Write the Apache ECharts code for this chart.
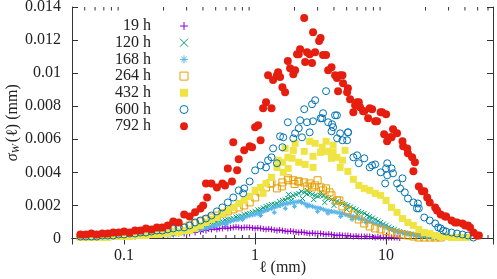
<!DOCTYPE html>
<html>
<head>
<meta charset="utf-8">
<script src="https://cdn.jsdelivr.net/npm/echarts@6/dist/echarts.min.js"></script>
<style>
html, body { margin: 0; padding: 0; background: #fff; }
#chart { width: 497px; height: 279px; }
</style>
</head>
<body>
<div id="chart"></div>
<script>
// shared l grid (mm)
var ell = [0.04642,0.05109,0.05623,0.06190,0.06813,0.07499,0.08254,0.09085,
  0.1,0.1101,0.1212,0.1334,0.1468,0.1616,0.1778,0.1957,0.2154,0.2371,0.2610,0.2873,0.3162,0.3481,0.3831,0.4217,0.4642,0.5109,0.5623,0.6190,0.6813,0.7499,0.8254,0.9085,
  1,1.101,1.212,1.334,1.468,1.616,1.778,1.957,2.154,2.371,2.610,2.873,3.162,3.481,3.831,4.217,4.642,5.109,5.623,6.190,6.813,7.499,8.254,9.085,
  10,11.01,12.12,13.34,14.68,16.16,17.78,19.57,21.54,23.71,26.10,28.73,31.62,34.81,38.31,42.17,46.42,51.09];
// in-between l values, used for the dense low curves
var ellMid = [0.2260,0.2488,0.2738,0.3014,0.3318,0.3652,0.4019,0.4424,0.4870,0.5360,0.5900,0.6494,0.7148,0.7868,0.8660,0.9532,
  1.049,1.155,1.271,1.399,1.540,1.695,1.866,2.054,2.260,2.488,2.738,3.014,3.318,3.652,4.019,4.424,4.870,5.360,5.900,6.494,7.148,7.868,8.660,9.532,
  10.49,11.55,12.71,13.99,15.40,16.95,18.66,20.54,22.60,24.88,27.38,30.14];

var sigma19 = [0.00006,0.00006,0.00006,0.00006,0.00006,0.00006,0.00012,0.00012,
  0.00012,0.00012,0.00012,0.00018,0.00018,0.00018,0.00018,0.00024,0.00024,0.00024,0.00030,0.00030,0.00030,0.00036,0.00042,0.00048,0.00055,0.00055,0.00061,0.00061,0.00067,0.00067,0.00067,0.00067,
  0.00061,0.00061,0.00055,0.00055,0.00048,0.00048,0.00042,0.00042,0.00036,0.00036,0.00030,0.00030,0.00030,0.00024,0.00024,0.00018,0.00018,0.00018,0.00012,0.00012,0.00012,0.00012,0.00006,0.00006,
  0.00006,0.00006,0.00006,null,null,null,null,null,null,null,null,null,null,null,null,null,null,null];
var mid19 = [0.00030,0.00033,0.00033,0.00039,0.00045,0.00052,0.00052,0.00058,0.00064,0.00061,0.00070,0.00064,0.00070,0.00064,0.00067,0.00064,
  0.00064,0.00058,0.00058,0.00052,0.00052,0.00045,0.00045,0.00039,0.00039,0.00033,0.00033,0.00030,0.00027,0.00027,0.00021,0.00021,0.00018,0.00015,0.00015,0.00012,0.00012,0.00009,0.00009,0.00006,
  0.00006,0.00006,0.00003,null,null,null,null,null,null,null,null,null];

var sigma120 = [0.00012,0.00012,0.00012,0.00012,0.00012,0.00012,0.00012,0.00012,
  0.00018,0.00018,0.00018,0.00018,0.00018,0.00024,0.00024,0.00024,0.00030,0.00036,0.00042,0.00048,0.00055,0.00061,0.00067,0.00079,0.00085,0.00097,0.00103,0.00115,0.00121,0.00133,0.00145,0.00152,
  0.00164,0.00176,0.00194,0.00206,0.00212,0.00230,0.00242,0.00261,0.00273,0.00279,0.00273,0.00261,0.00261,0.00248,0.00236,0.00224,0.00212,0.00200,0.00182,0.00164,0.00152,0.00133,0.00115,0.00097,
  0.00079,0.00061,0.00048,0.00036,0.00030,0.00024,0.00018,0.00012,0.00012,0.00006,0.00006,0.00006,null,null,null,null,null,null];
var mid120 = [0.00036,0.00039,0.00045,0.00052,0.00058,0.00064,0.00076,0.00082,0.00091,0.00100,0.00112,0.00118,0.00130,0.00136,0.00148,0.00158,
  0.00173,0.00185,0.00200,0.00206,0.00224,0.00233,0.00252,0.00267,0.00285,0.00270,0.00267,0.00255,0.00258,0.00242,0.00230,0.00218,0.00206,0.00191,0.00173,0.00158,0.00142,0.00124,0.00106,0.00088,
  0.00070,0.00055,0.00042,0.00033,0.00027,0.00021,0.00015,0.00012,0.00009,0.00006,0.00006,0.00006];
var extra120 = [[1.2,0.00176],[1.5,0.0020],[1.8,0.00267],[1.9,0.0023],[2.3,0.00242],[2.5,0.00291],[2.8,0.00236],[3.2,0.00279],[3.4,0.00218],[4.0,0.0020],[5.0,0.00176],[6.0,0.00145],[7.5,0.00115]];

var sigma168 = [0.00006,0.00006,0.00006,0.00006,0.00006,0.00006,0.00006,0.00006,
  0.00012,0.00012,0.00012,0.00012,0.00012,0.00018,0.00018,0.00018,0.00018,0.00024,0.00030,0.00036,0.00042,0.00048,0.00055,0.00061,0.00073,0.00079,0.00091,0.00097,0.00109,0.00115,0.00127,0.00139,
  0.00145,0.00158,0.00170,0.00182,0.00194,0.00206,0.00212,0.00218,0.00224,0.00212,0.00200,0.00188,0.00182,0.00170,0.00164,0.00158,0.00152,0.00139,0.00133,0.00121,0.00115,0.00103,0.00091,0.00079,
  0.00067,0.00055,0.00042,0.00036,0.00030,0.00024,0.00018,0.00018,0.00012,0.00012,0.00012,0.00006,0.00006,0.00006,0.00006,null,null,null];
var mid168 = [0.00021,0.00027,0.00033,0.00039,0.00045,0.00052,0.00058,0.00067,0.00076,0.00085,0.00094,0.00103,0.00112,0.00121,0.00133,0.00142,
  0.00152,0.00164,0.00176,0.00188,0.00200,0.00209,0.00215,0.00221,0.00218,0.00206,0.00194,0.00185,0.00176,0.00167,0.00161,0.00155,0.00145,0.00136,0.00127,0.00118,0.00109,0.00097,0.00085,0.00073,
  0.00061,0.00048,0.00039,0.00033,0.00027,0.00021,0.00018,0.00015,0.00012,0.00009,0.00009,0.00006];
var extra168 = [[0.6,0.00085],[0.8,0.00115],[1.1,0.00139],[1.4,0.00158],[1.7,0.00182],[2.0,0.00194],[2.5,0.00194],[3.0,0.00164],[3.6,0.00152],[4.5,0.00133],[5.5,0.00115],[7.0,0.00097]];

var sigma264 = [0.00012,0.00012,0.00012,0.00012,0.00012,0.00018,0.00018,0.00018,
  0.00024,0.00024,0.00024,0.00030,0.00030,0.00036,0.00036,0.00042,0.00048,0.00055,0.00061,0.00067,0.00079,0.00091,0.00103,0.00115,0.00127,0.00139,0.00152,0.00164,0.00176,0.00188,0.00200,0.00218,
  0.00248,0.00279,0.00309,0.00333,0.00303,0.00339,0.00364,0.00352,0.00345,0.00339,0.00333,0.00321,0.00309,0.00303,0.00261,0.00230,0.00194,0.00170,0.00145,0.00115,0.00091,0.00073,0.00061,0.00055,
  0.00045,0.00036,0.00030,0.00024,0.00018,0.00012,0.00006,0.00006,0.00006,0.00006,0.00006,null,null,null,null,null,null,null];
var extra264 = [[1.30,0.00333],[1.60,0.00315],[1.79,0.00352],[2.0,0.0033],[2.14,0.00345],[2.5,0.00315],[2.72,0.00309],[3.0,0.00352],[3.3,0.00291],[3.7,0.00279],[4.4,0.0023]];

var sigma432 = [0.00006,0.00006,0.00006,0.00006,0.00006,0.00006,0.00012,0.00012,
  0.00012,0.00012,0.00018,0.00018,0.00018,0.00024,0.00024,0.00030,0.00030,0.00042,0.00036,0.00048,0.00048,0.00061,0.00079,0.00097,0.00115,0.00127,0.00152,0.00170,0.00188,0.00212,0.00230,0.00255,
  0.00291,0.00309,0.00333,0.00370,0.00430,0.00461,0.00491,0.00533,0.00461,0.00527,0.00588,0.00576,0.00521,0.00588,0.00485,0.00491,0.00473,0.00406,0.00358,0.00321,0.00303,0.00291,0.00273,0.00261,
  0.00230,0.00188,0.00158,0.00121,0.00097,0.00079,0.00055,0.00036,0.00030,0.00018,0.00012,0.00012,0.00006,0.00006,0.00006,0.00006,null,null];
var extra432 = [[1.151,0.00273],[1.498,0.00473],[1.64,0.0040],[1.694,0.00545],[1.786,0.00424],[1.917,0.00485],[2.02,0.00576],[2.41,0.00448],[2.77,0.00497],[2.77,0.0043],[3.25,0.00552],[3.55,0.00527],[3.94,0.00521],[3.94,0.00564],[4.46,0.0043],[4.86,0.00533]];

var sigma600 = [0.00012,0.00012,0.00012,0.00012,0.00018,0.00018,0.00018,0.00024,
  0.00024,0.00030,0.00030,0.00036,0.00036,0.00042,0.00048,0.00048,0.00055,0.00061,0.00067,0.00067,0.00079,0.00097,0.00109,0.00121,0.00139,0.00164,0.00188,0.00218,0.00248,0.00291,0.00303,0.00345,
  0.00412,0.00442,0.00430,0.00491,0.00455,0.00552,0.00703,0.00606,0.00667,0.00782,0.00642,0.00836,0.00727,0.00891,0.00648,0.00745,0.00594,0.00642,0.00491,0.00455,0.00485,0.00430,0.00448,0.00400,
  0.00424,0.00424,0.00333,0.00364,0.00242,0.00218,0.00182,0.00127,0.00109,0.00091,0.00061,0.00042,0.00036,0.00030,0.00024,0.00018,0.00006,null];
var extra600 = [[0.81,0.00273],[1.256,0.00473],[1.372,0.00545],[1.55,0.00618],[1.64,0.00612],[2.02,0.00636],[2.205,0.00715],[2.28,0.00612],[2.49,0.00703],[2.72,0.00812],[2.77,0.00709],[3.25,0.00727],[3.30,0.00758],[3.61,0.00703],[3.87,0.00691],[3.94,0.00673],[4.08,0.00745],[4.23,0.00606],[4.46,0.00636],[5.04,0.00594],[5.13,0.00642],[6.01,0.00503],[7.82,0.00442],[9.84,0.00333],[10.2,0.00382],[10.2,0.00455],[11.3,0.00394],[12.8,0.00303],[13.9,0.00279],[17.2,0.00182],[17.5,0.00212],[25.0,0.00067],[27.3,0.00048]];

var sigma792 = [0.00024,0.00024,0.00030,0.00024,0.00030,0.00030,0.00036,0.00036,
  0.00042,0.00036,0.00048,0.00048,0.00061,0.00055,0.00067,0.00067,0.00079,0.00103,0.00097,0.00145,0.00133,0.00158,0.00182,0.00333,0.00333,0.00309,0.00333,0.00424,0.00582,0.00479,0.00533,0.00558,
  0.00673,0.00594,0.00824,0.00788,0.00988,0.00915,0.01073,0.00994,0.01115,0.01333,0.01115,0.01127,0.01212,0.01109,0.01036,0.00970,0.00988,0.00909,0.00764,0.00824,0.00770,0.00788,0.00709,0.00764,
  0.00752,0.00612,0.00636,0.00588,0.00515,0.00406,0.00315,0.00285,0.00218,0.00188,0.00145,0.00133,0.00109,0.00097,0.00091,0.00079,0.00036,0.00018];
var extra792 = [[0.401,0.0020],[0.43,0.00248],[0.59,0.00321],[0.666,0.00345],[0.729,0.00412],[0.948,0.00552],[1.054,0.00685],[1.151,0.00788],[1.256,0.00988],[1.372,0.00958],[1.498,0.01006],[1.551,0.00976],[1.694,0.00885],[1.849,0.0103],[2.02,0.01018],[2.09,0.01115],[2.205,0.01145],[2.41,0.01067],[2.494,0.01127],[2.72,0.01061],[2.77,0.01248],[3.08,0.01194],[3.30,0.01109],[3.61,0.01018],[4.08,0.00988],[4.30,0.00891],[4.46,0.00988],[4.69,0.00939],[5.04,0.00885],[5.31,0.00842],[5.80,0.00806],[6.01,0.00824],[6.33,0.00794],[6.67,0.0077],[7.29,0.00727],[7.82,0.00782],[8.53,0.00709],[9.32,0.00764],[9.66,0.0063],[10.18,0.00588],[10.7,0.00612],[11.3,0.00661],[13.5,0.00558],[14.5,0.00545],[15.8,0.00491],[16.6,0.00461],[18.8,0.00285],[20.6,0.00248],[24.5,0.0017],[28.2,0.00133],[33.6,0.00097],[40.1,0.00079],[43.8,0.00067],[49.5,0.00018]];

var yTicks = [0, 0.002, 0.004, 0.006, 0.008, 0.01, 0.012, 0.014];
var minorTicks = [0.05,0.06,0.07,0.08,0.09,0.2,0.3,0.4,0.5,0.6,0.7,0.8,0.9,2,3,4,5,6,7,8,9,20,30,40,50,60];

var FONT = "'Liberation Serif', 'DejaVu Serif', serif";
var AXIS = '#333';
var SQUARE = 'path://M0,0L10,0L10,10L0,10Z';

function pairs(xs, vals) {
    var out = [];
    for (var i = 0; i < xs.length; i++) {
        if (vals[i] != null) out.push([xs[i], vals[i]]);
    }
    return out;
}

var chart = echarts.init(document.getElementById('chart'));

var sets = [
    {name: '19 h',  data: pairs(ell, sigma19).concat(pairs(ellMid, mid19)), symbol: 'path://M0,5L10,5M5,0L5,10', size: 6, color: '#9400d3', open: true},
    {name: '120 h', data: pairs(ell, sigma120).concat(pairs(ellMid, mid120), extra120), symbol: 'path://M0,0L10,10M10,0L0,10', size: 5, color: '#009e73', open: true},
    {name: '168 h', data: pairs(ell, sigma168).concat(pairs(ellMid, mid168), extra168), symbol: 'path://M0,5L10,5M5,0L5,10M1.5,1.5L8.5,8.5M8.5,1.5L1.5,8.5', size: 5, color: '#56b4e9', open: true},
    {name: '264 h', data: pairs(ell, sigma264).concat(extra264), symbol: SQUARE, size: 7, color: '#e69f00', open: true},
    {name: '432 h', data: pairs(ell, sigma432).concat(extra432), symbol: SQUARE, size: 7, color: '#f0e442', open: false},
    {name: '600 h', data: pairs(ell, sigma600).concat(extra600), symbol: 'circle', size: 7, color: '#0072b2', open: true},
    {name: '792 h', data: pairs(ell, sigma792).concat(extra792), symbol: 'circle', size: 8, color: '#e51e10', open: false}
];

function markStyle(s) {
    return s.open
        ? {color: 'transparent', borderColor: s.color, borderWidth: 1, opacity: 1}
        : {color: s.color, borderWidth: 0, opacity: 1};
}

var series = sets.map(function (s) {
    return {
        name: s.name,
        type: 'scatter',
        data: s.data,
        symbol: s.symbol,
        symbolSize: s.size,
        itemStyle: markStyle(s),
        emphasis: {disabled: true}
    };
});

// log minor ticks, bottom and top
series.push({
    type: 'custom',
    silent: true,
    data: minorTicks.map(function (v) { return [v, 0]; }),
    renderItem: function (params, api) {
        var b = api.coord([api.value(0), yTicks[0]]);
        var t = api.coord([api.value(0), yTicks[yTicks.length - 1]]);
        return {
            type: 'group',
            children: [
                {type: 'line', shape: {x1: b[0], y1: b[1], x2: b[0], y2: b[1] - 3.5}, style: {stroke: AXIS, lineWidth: 1}},
                {type: 'line', shape: {x1: t[0], y1: t[1], x2: t[0], y2: t[1] + 3.5}, style: {stroke: AXIS, lineWidth: 1}}
            ]
        };
    }
});

var xBase = {
    type: 'log',
    logBase: 10,
    min: 0.04,
    max: 65.5,
    splitLine: {show: false},
    axisLine: {show: true, lineStyle: {color: AXIS, width: 1}},
    axisTick: {show: true, inside: true, length: 6, lineStyle: {color: AXIS}}
};
var yBase = {
    type: 'value',
    min: yTicks[0],
    max: yTicks[yTicks.length - 1],
    interval: 0.002,
    splitLine: {show: false},
    axisLine: {show: true, lineStyle: {color: AXIS, width: 1}},
    axisTick: {show: true, inside: true, length: 6, lineStyle: {color: AXIS}}
};

var option = {
    animation: false,
    backgroundColor: '#fff',
    grid: {left: 72, right: 4, top: 7, bottom: 40.5, outerBoundsMode: 'none', containLabel: false},
    legend: {
        orient: 'vertical',
        left: 110,
        top: 13,
        align: 'right',
        itemWidth: 56,
        itemHeight: 8,
        itemGap: 0.7,
        selectedMode: false,
        textStyle: {fontFamily: FONT, fontSize: 16, color: '#222', lineHeight: 16},
        data: sets.map(function (s) {
            return {name: s.name, itemStyle: markStyle(s)};
        })
    },
    xAxis: [
        Object.assign({}, xBase, {
            position: 'bottom',
            name: 'ℓ (mm)',
            nameLocation: 'middle',
            nameGap: 21,
            nameMoveOverlap: false,
            nameTextStyle: {fontFamily: FONT, fontSize: 16, color: '#222'},
            axisLabel: {fontFamily: FONT, fontSize: 16, color: '#222', margin: 9, showMinLabel: false, showMaxLabel: false}
        }),
        Object.assign({}, xBase, {position: 'top', axisLabel: {show: false}})
    ],
    yAxis: [
        Object.assign({}, yBase, {
            position: 'left',
            name: '{s|σ}{sub|W}{n|(ℓ) (mm)}',
            nameLocation: 'middle',
            nameGap: 50,
            nameMoveOverlap: false,
            nameTextStyle: {
                rich: {
                    s: {fontFamily: FONT, fontSize: 16, fontStyle: 'italic', color: '#222', lineHeight: 18},
                    sub: {fontFamily: FONT, fontSize: 11, fontStyle: 'italic', color: '#222', verticalAlign: 'bottom', lineHeight: 12, padding: [0, 2, 0, 0]},
                    n: {fontFamily: FONT, fontSize: 16, color: '#222', lineHeight: 18}
                }
            },
            axisLabel: {fontFamily: FONT, fontSize: 16, color: '#222', margin: 11}
        }),
        Object.assign({}, yBase, {position: 'right', axisLabel: {show: false}})
    ],
    series: series
};

chart.setOption(option);
window.onresize = chart.resize;
</script>
</body>
</html>
